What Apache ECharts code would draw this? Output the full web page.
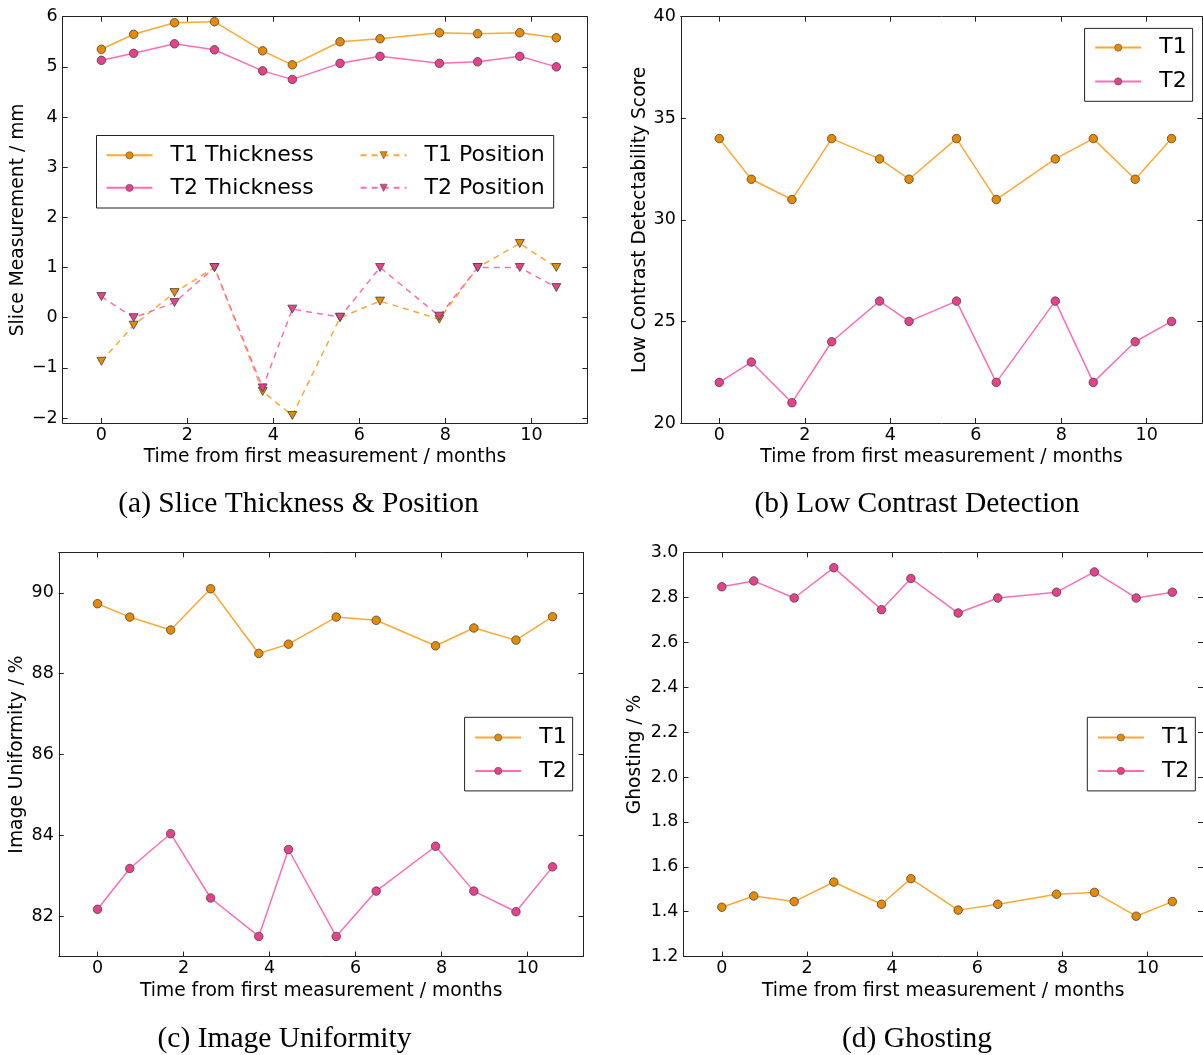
<!DOCTYPE html>
<html>
<head>
<meta charset="utf-8">
<script src="https://cdn.jsdelivr.net/npm/echarts@6/dist/echarts.min.js"></script>
<style>
html, body { margin: 0; padding: 0; background: #fff; }
#chart { width: 1203px; height: 1055px; }
</style>
</head>
<body>
<div id="chart"></div>
<script>
// time of each measurement (months)
const months = [0, 0.75, 1.7, 2.63, 3.75, 4.44, 5.55, 6.48, 7.86, 8.75, 9.73, 10.58];

// (a) slice thickness & position (mm)
const t1Thickness = [5.35, 5.65, 5.88, 5.9, 5.32, 5.04, 5.5, 5.56, 5.68, 5.66, 5.68, 5.58];
const t2Thickness = [5.13, 5.27, 5.46, 5.34, 4.92, 4.75, 5.07, 5.21, 5.07, 5.1, 5.21, 5.0];
const t1Position = [-0.87, -0.15, 0.5, 1.0, -1.47, -1.95, 0.0, 0.33, -0.03, 1.0, 1.48, 1.0];
const t2Position = [0.42, 0.0, 0.3, 1.0, -1.4, 0.17, 0.01, 1.0, 0.03, 1.0, 1.0, 0.6];

// (b) low contrast detectability score
const contrastT1 = [34, 32, 31, 34, 33, 32, 34, 31, 33, 34, 32, 34];
const contrastT2 = [22, 23, 21, 24, 26, 25, 26, 22, 26, 22, 24, 25];

// (c) image uniformity (%)
const uniformityT1 = [89.73, 89.4, 89.08, 90.1, 88.5, 88.73, 89.4, 89.32, 88.69, 89.13, 88.83, 89.41];
const uniformityT2 = [82.17, 83.18, 84.04, 82.45, 81.5, 83.65, 81.5, 82.62, 83.73, 82.62, 82.11, 83.22];

// (d) ghosting (%)
const ghostingT1 = [1.42, 1.47, 1.445, 1.532, 1.433, 1.547, 1.407, 1.433, 1.478, 1.486, 1.38, 1.445];
const ghostingT2 = [2.847, 2.873, 2.797, 2.932, 2.745, 2.884, 2.73, 2.797, 2.823, 2.913, 2.797, 2.823];

// tick labels
const xTicks = [0, 2, 4, 6, 8, 10];
const yTicksA = [-2, -1, 0, 1, 2, 3, 4, 5, 6];
const yTicksB = [20, 25, 30, 35, 40];
const yTicksC = [82, 84, 86, 88, 90];
const yTicksD = [1.2, 1.4, 1.6, 1.8, 2.0, 2.2, 2.4, 2.6, 2.8, 3.0];

const FONT = 'DejaVu Sans';
const FRAME = '#222';
const T1_LINE = '#ffa833', T1_MARK = '#e68a00';
const T2_LINE = '#ff6eb4', T2_MARK = '#e8408a';
const TRI_DOWN = 'path://M0,0L10,0L5,9Z';

const panels = [
    { left: 62.7, top: 16.7, width: 524.6, height: 406.3, min: -2.1, max: 6, ticks: yTicksA,
      fmt: v => v < 0 ? '\u2212' + Math.abs(v) : String(v), name: 'Slice Measurement / mm', gap: 33.5 },
    { left: 680.8, top: 16.7, width: 521.5, height: 406.3, min: 20, max: 40, ticks: yTicksB,
      fmt: v => String(v), name: 'Low Contrast Detectability Score', gap: 31.5 },
    { left: 58.8, top: 552.4, width: 524.7, height: 404.2, min: 81, max: 91, ticks: yTicksC,
      fmt: v => String(v), name: 'Image Uniformity / %', gap: 32 },
    { left: 683.5, top: 552.4, width: 520, height: 404.2, min: 1.2, max: 3.0, ticks: yTicksD,
      fmt: v => v.toFixed(1), name: 'Ghosting / %', gap: 39 }
];

const grids = [], xAxes = [], yAxes = [];
panels.forEach((p, i) => {
    grids.push({ left: p.left, top: p.top, width: p.width, height: p.height, containLabel: false });
    const line = { show: true, onZero: false, lineStyle: { color: FRAME, width: 1 } };
    const tick = (vals) => ({ show: true, inside: true, length: 5, customValues: vals, lineStyle: { color: FRAME, width: 1 } });
    const label = (vals, fmt, margin) => ({ show: true, customValues: vals, formatter: fmt, margin: margin,
        fontFamily: FONT, fontSize: 17.5, color: '#000' });
    xAxes.push({
        gridIndex: i, type: 'value', position: 'bottom', min: -0.9, max: 11.3,
        axisLine: line, axisTick: tick(xTicks), axisLabel: label(xTicks, v => String(v), 3),
        splitLine: { show: false },
        name: 'Time from first measurement / months', nameLocation: 'middle', nameGap: 25,
        nameTextStyle: { fontFamily: FONT, fontSize: 18.7, color: '#000' }
    });
    xAxes.push({
        gridIndex: i, type: 'value', position: 'top', min: -0.9, max: 11.3,
        axisLine: line, axisTick: tick(xTicks), axisLabel: { show: false }, splitLine: { show: false }
    });
    yAxes.push({
        gridIndex: i, type: 'value', position: 'left', min: p.min, max: p.max,
        axisLine: line, axisTick: tick(p.ticks), axisLabel: label(p.ticks, p.fmt, 5),
        splitLine: { show: false },
        name: p.name, nameLocation: 'middle', nameGap: p.gap, nameRotate: 90,
        nameTextStyle: { fontFamily: FONT, fontSize: 18.7, color: '#000' }
    });
    yAxes.push({
        gridIndex: i, type: 'value', position: 'right', min: p.min, max: p.max,
        axisLine: line, axisTick: tick(p.ticks), axisLabel: { show: false }, splitLine: { show: false }
    });
});

function makeLine(name, panel, ys, lineColor, markColor, dashed, symbol) {
    return {
        type: 'line', name: name,
        xAxisIndex: panel * 2, yAxisIndex: panel * 2,
        data: months.map((m, k) => [m, ys[k]]),
        symbol: symbol, symbolSize: symbol === TRI_DOWN ? [9, 8] : 8.5, showSymbol: true,
        lineStyle: { color: lineColor, width: 1.5, type: dashed ? [6, 5] : 'solid' },
        itemStyle: { color: markColor, borderColor: '#444', borderWidth: 0.8 },
        silent: true
    };
}

const series = [
    makeLine('T1 Thickness', 0, t1Thickness, T1_LINE, T1_MARK, false, 'circle'),
    makeLine('T2 Thickness', 0, t2Thickness, T2_LINE, T2_MARK, false, 'circle'),
    makeLine('T1 Position', 0, t1Position, T1_LINE, T1_MARK, true, TRI_DOWN),
    makeLine('T2 Position', 0, t2Position, T2_LINE, T2_MARK, true, TRI_DOWN),
    makeLine('T1', 1, contrastT1, T1_LINE, T1_MARK, false, 'circle'),
    makeLine('T2', 1, contrastT2, T2_LINE, T2_MARK, false, 'circle'),
    makeLine('T1', 2, uniformityT1, T1_LINE, T1_MARK, false, 'circle'),
    makeLine('T2', 2, uniformityT2, T2_LINE, T2_MARK, false, 'circle'),
    makeLine('T1', 3, ghostingT1, T1_LINE, T1_MARK, false, 'circle'),
    makeLine('T2', 3, ghostingT2, T2_LINE, T2_MARK, false, 'circle')
];

const legendText = { fontFamily: FONT, fontSize: 22, color: '#000', lineHeight: 24, padding: [0, 0, 0, 13] };
function makeLegend(names, left, top, padding, gap, bordered) {
    return {
        data: names, orient: 'vertical', left: left, top: top,
        itemWidth: 46, itemHeight: 9, itemGap: gap, padding: padding,
        borderColor: bordered ? FRAME : 'transparent', borderWidth: bordered ? 1 : 0,
        backgroundColor: bordered ? '#fff' : 'transparent',
        itemStyle: { borderColor: '#555', borderWidth: 0.6 },
        textStyle: legendText, selectedMode: false
    };
}

const legends = [
    makeLegend(['T1 Thickness', 'T2 Thickness'], 96.5, 135.5, [7.8, 240, 8.2, 9], 8.5, true),
    makeLegend(['T1 Position', 'T2 Position'], 359.6, 135.5, [7.8, 0, 8.2, 0], 8.5, false),
    makeLegend(['T1', 'T2'], 1084.6, 28.4, [7.2, 6, 7.9, 9.6], 9.8, true),
    makeLegend(['T1', 'T2'], 464.6, 717.3, [8.2, 6, 8, 9.6], 9.4, true),
    makeLegend(['T1', 'T2'], 1087.3, 717.3, [8.2, 6, 8, 9.6], 9.4, true)
];

function caption(text, x, y) {
    return { type: 'text', x: x, y: y, silent: true,
        style: { text: text, font: '29.5px "Liberation Serif"', fill: '#000', align: 'center', verticalAlign: 'middle' } };
}

const chart = echarts.init(document.getElementById('chart'), null, { renderer: 'canvas' });
chart.setOption({
    backgroundColor: '#fff',
    animation: false,
    grid: grids,
    xAxis: xAxes,
    yAxis: yAxes,
    legend: legends,
    series: series,
    graphic: [
        caption('(a) Slice Thickness & Position', 298.5, 504),
        caption('(b) Low Contrast Detection', 917, 504),
        caption('(c) Image Uniformity', 284.5, 1039),
        caption('(d) Ghosting', 917, 1039)
    ]
});
</script>
</body>
</html>
